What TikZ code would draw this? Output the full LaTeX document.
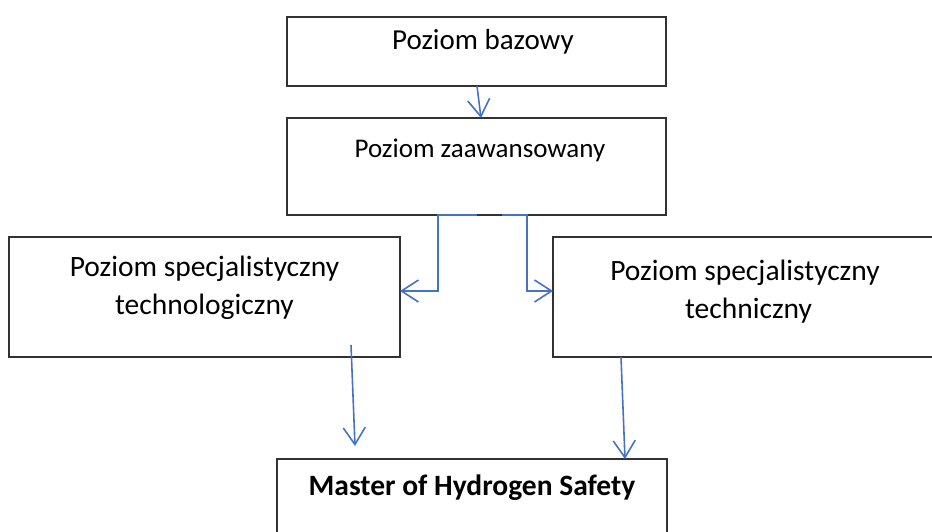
\documentclass[tikz,border=0pt]{standalone}
\usepackage{fontspec}
\setmainfont{Carlito}
\usetikzlibrary{arrows.meta,calc}
\definecolor{arrowblue}{RGB}{68,114,196}
\definecolor{boxline}{RGB}{50,50,50}
\tikzset{
  box/.style={draw=boxline, line width=1.5pt, rectangle, inner sep=0pt, outer sep=0pt},
  lbl/.style={anchor=base, inner sep=0pt, font=\fontsize{29.5}{35}\selectfont},
  arr/.style={draw=arrowblue, line width=1.6pt, line join=miter,
    -{Straight Barb[length=17pt,width=22pt,line width=1.6pt]}}
}
\begin{document}
\begin{tikzpicture}[x=1pt,y=-1pt]
\useasboundingbox (0,0) rectangle (932,532);
\clip (0,0) rectangle (932,532);
% boxes
\node[box, minimum width=379pt, minimum height=69pt] (b1) at (476.5,51.5) {};
\node[box, minimum width=379pt, minimum height=97pt] (b2) at (476.5,166.5) {};
\node[box, minimum width=391pt, minimum height=120pt] (b3) at (204.5,297) {};
\node[box, minimum width=383pt, minimum height=120pt] (b4) at (744.5,297) {};
\node[box, minimum width=390pt, minimum height=81pt] (b5) at (472,499.5) {};
% texts
\node[lbl, font=\fontsize{29}{35}\selectfont] (t1) at (483,50) {Poziom bazowy};
\node[lbl, font=\fontsize{27}{32}\selectfont] (t2) at (480,158) {Poziom zaawansowany};
\node[lbl] (t3a) at (204.5,276) {Poziom specjalistyczny};
\node[lbl] (t3b) at (204.5,314) {technologiczny};
\node[lbl] (t4a) at (745,280) {Poziom specjalistyczny};
\node[lbl] (t4b) at (748.5,318) {techniczny};
\node[lbl, font=\fontsize{29.5}{35}\selectfont\bfseries] (t5) at (472,495) {Master of Hydrogen Safety};
% connectors
\draw[arr] ([xshift=0.5pt]b1.south) -- ([xshift=4.5pt]b2.north);
\draw[arr] ([xshift=0.5pt]b2.south) -- ++(-39,0) |- ([yshift=6pt]b3.east);
\draw[arr] ([xshift=25.5pt]b2.south) -- ++(25,0) |- ([yshift=6pt]b4.west);
\draw[arr] ([xshift=146.5pt,yshift=12pt]b3.south) -- ([xshift=-117pt,yshift=13pt]b5.north);
\draw[arr] ([xshift=-123.5pt]b4.south) -- ([xshift=153pt]b5.north);
\end{tikzpicture}
\end{document}
